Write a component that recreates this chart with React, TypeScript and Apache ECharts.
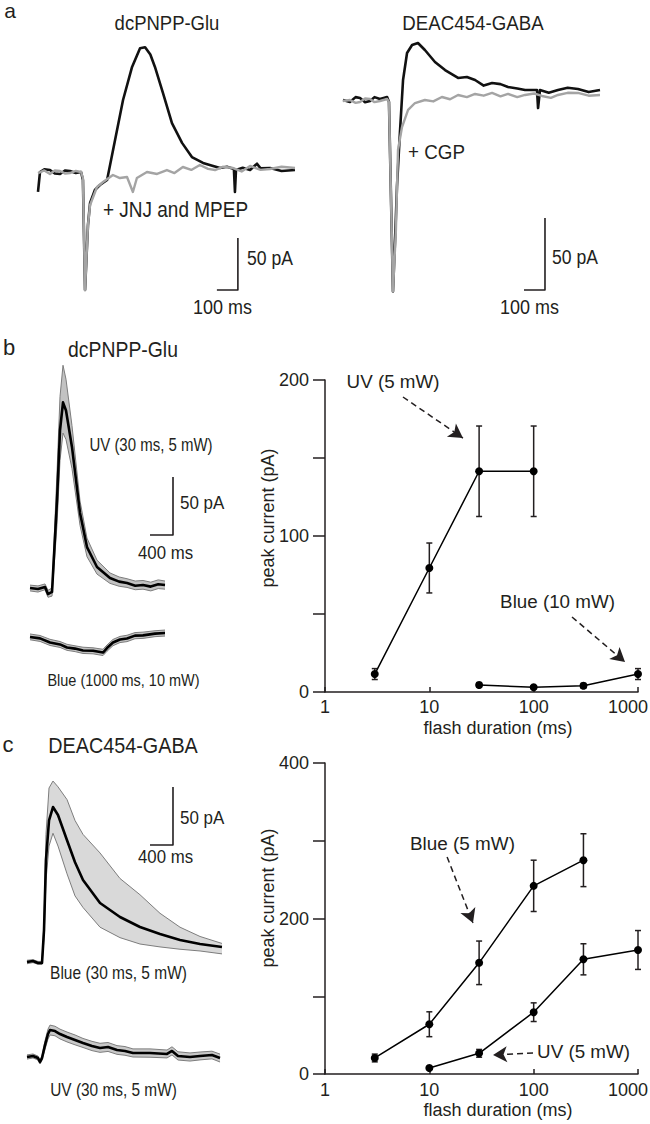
import React, { useEffect, useRef } from "react";
import * as echarts from "echarts";

const FONT = "'Liberation Sans', Arial, Helvetica, sans-serif";
const INK = "#231f20";
const GRAY = "#a4a4a4";
const EDGE = "#7d7d7d";

// ---------- Panel a: example traces, [time (ms), current (pA)] ----------
const aGluControl = [
  [0, -19.2], [9.5, 0], [30, 2.5], [57, 1.9], [80, -1.5], [105, -1.9], [130, 1.5], [152, 1], [180, -1], [205, 0],
  [214, -7.7], [224, -113.5], [238, -51], [248, -29.8], [271, -17.3], [295, -12.5], [329, -7.7], [367, 30.8],
  [405, 69.2], [448, 101], [486, 119], [510, 120], [535, 113], [557, 101], [595, 76], [638, 47], [686, 28],
  [733, 14.4], [786, 8.7], [830, 6], [867, 3.8], [900, 5], [933, 2.9], [938, -19.2], [943, 1.9], [975, 4],
  [1010, 1.9], [1043, 8], [1060, 3.5], [1105, 3.8], [1160, 1], [1224, 1.9],
];
const aGluBlocked = [
  [0, -1], [30, 1.5], [57, -1.9], [80, 1.5], [105, 1], [130, -1.5], [152, -1], [180, 1], [205, 0], [214, -5.8],
  [224, -113.5], [238, -51], [248, -31.7], [281, -14.4], [310, -9.6], [357, -2.9], [390, -5.8], [424, -4.8],
  [452, -19.2], [471, -5.8], [519, 0], [567, -1.9], [614, 1.9], [650, -1], [690, 4.8], [730, 2], [771, 6.7],
  [810, 3], [843, 1.9], [880, 5], [929, 3.8], [970, 0.5], [1010, 5.8], [1060, 2], [1105, 2.9], [1160, 5], [1224, 3.8],
];
const aGabaControl = [
  [0, 0], [33, -1.4], [60, 2], [81, 1.4], [105, -1.5], [129, -0.7], [150, 2], [176, 0.7], [210, 2.1], [219, -1.4],
  [238, -133], [248, -97], [257, -60.4], [271, -22.9], [286, 13.9], [305, 32.6], [329, 38.2], [357, 39.6],
  [390, 34.7], [438, 26.4], [486, 20.8], [548, 15.3], [590, 16], [629, 13.9], [670, 10], [710, 11.8], [750, 11],
  [786, 9], [830, 8], [867, 6.9], [924, 6.9], [929, -5.6], [938, 6.9], [980, 5], [1024, 6.9], [1070, 8.5],
  [1119, 7.6], [1170, 5.5], [1224, 6.9],
];
const aGabaCGP = [
  [0, -0.7], [33, 0], [60, -2], [81, -1.4], [105, 1], [129, 0.7], [150, -1.5], [176, -0.7], [210, 0.7], [219, -1.4],
  [238, -133], [252, -90], [262, -34.7], [281, -18.8], [310, -6.9], [343, -2.1], [390, 0], [430, -1], [471, 2.1],
  [510, 0.5], [548, 3.5], [590, 2], [629, 4.2], [670, 3], [710, 4.9], [750, 2.5], [786, 4.2], [830, 2], [867, 3.5],
  [910, 4.5], [948, 2.8], [990, 1.5], [1024, 3.5], [1070, 5], [1119, 4.9], [1170, 3], [1224, 3.5],
];

// ---------- Panel b traces (mean ± band) ----------
const bUvTime = [0, 139, 261, 313, 383, 470, 522, 574, 626, 730, 870, 991, 1165, 1391, 1550, 1687, 1830, 1965, 2100, 2230, 2348];
const bUvMean = [0, -0.9, 0.9, -5.2, -3.4, 75.9, 136, 160, 153, 121.6, 64.7, 35.3, 18.1, 8.6, 5.5, 4.3, 2.0, 2.6, 1.2, 3.2, 2.6];
const bUvUpper = [2.5, 1.8, 3.5, -2, 0, 100, 165, 192, 180, 140, 75, 43, 24, 13, 9.5, 8, 6, 6.5, 5, 7, 6];
const bUvLower = [-2.5, -3.5, -1.5, -8, -7, 55, 110, 133.6, 128, 103, 54, 27, 12, 4, 1.5, 0.5, -1.5, -1, -2.5, -0.5, -1];

const bBlueTime = [0, 174, 348, 522, 643, 783, 922, 1096, 1270, 1339, 1443, 1565, 1687, 1826, 1965, 2174, 2348];
const bBlueMean = [0, -1.2, -4.8, -6.4, -9.0, -10.0, -11.6, -11.8, -13.4, -9.5, -4.8, -2.2, -1.3, 1.2, 1.4, 2.9, 3.4];
const bBlueUpper = [2.6, 1.3, -2.0, -3.9, -6.3, -7.6, -8.8, -9.3, -10.6, -6.9, -2.1, 0.5, 1.5, 3.8, 4.2, 5.4, 6.0];
const bBlueLower = [-2.4, -3.8, -7.3, -9.0, -11.5, -12.6, -14.2, -14.5, -16.0, -12.3, -7.5, -4.8, -4.0, -1.5, -1.2, 0.3, 0.8];

// ---------- Panel c traces ----------
const cBlueTime = [0, 104, 191, 261, 296, 330, 383, 452, 539, 696, 835, 974, 1270, 1617, 1965, 2313, 2661, 3009, 3391];
const cBlueMean = [0, 0.9, -0.9, -0.9, 27.6, 88, 122, 133.6, 126.7, 105, 86, 70.7, 50.9, 38.8, 30.2, 24.1, 19, 15.5, 12.9];
const cBlueUpper = [1.5, 2, 0.5, 0.5, 35, 110, 150, 156, 151, 140, 122, 110, 94, 72, 58, 42, 30, 22, 16];
const cBlueLower = [-1.5, -0.5, -2, -2, 20, 70, 100, 111, 100, 76, 57, 47, 30, 21, 15.5, 13, 11, 9.5, 7];

const cUvTime = [0, 104, 191, 226, 261, 313, 365, 400, 487, 574, 696, 835, 974, 1130, 1270, 1409, 1565, 1704, 1843, 2139, 2435, 2522, 2626, 2835, 3009, 3217, 3357];
const cUvMean = [0, 0.9, -0.9, -4.3, -0.9, 10.3, 19.8, 23.3, 22.4, 19.8, 17.2, 14.7, 12.1, 9.5, 7.8, 8.6, 6, 5.2, 3.4, 3.4, 2.6, 5.2, 0.9, 0, 0.9, 1.7, -0.9];
const cUvUpper = [1.8, 2.6, 0.8, -2.5, 1, 14, 24, 27.5, 26.5, 24, 21.5, 19, 16, 13.5, 11.8, 12.5, 9.8, 9, 7, 7, 6, 8.8, 4.5, 3.5, 4.3, 5, 2.5];
const cUvLower = [-1.8, -0.8, -2.6, -6, -2.7, 6.5, 15.5, 19, 18.3, 15.6, 13, 10.5, 8.2, 5.5, 4, 4.8, 2.3, 1.5, 0, -0.2, -0.8, 1.8, -2.6, -3.5, -2.5, -1.6, -4.3];

// ---------- Scale bars (lengths) ----------
const aScalePA = 50;
const aScaleMs = 100;
const bcScalePA = 50;
const bcScaleMs = 400;

// ---------- Peak current vs flash duration ----------
const durTickLabels = ["1", "10", "100", "1000"];
const bYTickLabels = ["0", "100", "200"];
const cYTickLabels = ["0", "200", "400"];

const bUvDur = [3, 10, 30, 100];
const bUvPeak = [11.5, 79.5, 141.5, 141.5];
const bUvErr = [3.5, 16, 29, 29];
const bBlueDur = [30, 100, 300, 1000];
const bBluePeak = [4.5, 3, 4, 11.5];
const bBlueErr = [1.5, 1, 1.5, 3.5];

const cBlueDur = [3, 10, 30, 100, 300];
const cBluePeak = [20.6, 64, 143, 242, 275];
const cBlueErr = [5, 16, 28, 33, 34];
const cUvDur = [10, 30, 100, 300, 1000];
const cUvPeak = [7.7, 26.6, 79.5, 147.5, 159.5];
const cUvErr = [2, 5, 12, 20, 25];

// ---------- helpers ----------
const zip = (a: number[], b: number[]) => a.map((v, i) => [v, b[i]]);

function trace(ai: number, data: number[][], color: string, width: number) {
  return {
    type: "line", xAxisIndex: ai, yAxisIndex: ai, data, symbol: "none", showSymbol: false,
    lineStyle: { color, width, join: "round" }, silent: true, clip: false,
  };
}

function band(ai: number, time: number[], lower: number[], upper: number[], fill: string) {
  return {
    type: "custom", xAxisIndex: ai, yAxisIndex: ai, coordinateSystem: "cartesian2d", silent: true, clip: false,
    data: time.map((t, i) => [t, lower[i], upper[i]]),
    encode: { x: 0, y: [1, 2] },
    renderItem: (params: any, api: any) => {
      if (params.dataIndex !== 0) return null;
      const pts: number[][] = [];
      for (let i = 0; i < time.length; i++) pts.push(api.coord([time[i], upper[i]]));
      for (let i = time.length - 1; i >= 0; i--) pts.push(api.coord([time[i], lower[i]]));
      return { type: "polygon", shape: { points: pts }, style: { fill, stroke: null } };
    },
  };
}

function bandSeries(ai: number, time: number[], mean: number[], upper: number[], lower: number[], fill: string) {
  return [
    band(ai, time, lower, upper, fill),
    trace(ai, zip(time, upper), EDGE, 1),
    trace(ai, zip(time, lower), EDGE, 1),
    trace(ai, zip(time, mean), "#000", 2.6),
  ];
}

function scaleBar(ai: number, corner: number[], pA: number, ms: number) {
  return trace(ai, [[corner[0], corner[1] + pA], [corner[0], corner[1]], [corner[0] - ms, corner[1]]], INK, 1.6);
}

function errorBars(ai: number, dur: number[], peak: number[], err: number[]) {
  return {
    type: "custom", xAxisIndex: ai, yAxisIndex: ai, coordinateSystem: "cartesian2d", silent: true, clip: false,
    data: dur.map((d, i) => [d, peak[i] - err[i], peak[i] + err[i]]),
    encode: { x: 0, y: [1, 2] },
    renderItem: (_p: any, api: any) => {
      const x = api.value(0);
      const a = api.coord([x, api.value(1)]);
      const b = api.coord([x, api.value(2)]);
      const w = 3;
      const st = { stroke: INK, lineWidth: 1.5 };
      return {
        type: "group",
        children: [
          { type: "line", shape: { x1: a[0], y1: a[1], x2: b[0], y2: b[1] }, style: st },
          { type: "line", shape: { x1: a[0] - w, y1: a[1], x2: a[0] + w, y2: a[1] }, style: st },
          { type: "line", shape: { x1: b[0] - w, y1: b[1], x2: b[0] + w, y2: b[1] }, style: st },
        ],
      };
    },
  };
}

function arrow(from: number[], to: number[]) {
  return {
    silent: true, symbol: ["none", "arrow"], symbolSize: [12, 14],
    lineStyle: { type: [6, 4], width: 1.5, color: INK },
    itemStyle: { color: INK },
    label: { show: false }, emphasis: { disabled: true },
    data: [[{ coord: from }, { coord: to }]],
  };
}

function dots(ai: number, dur: number[], peak: number[], markLine: any) {
  return {
    type: "line", xAxisIndex: ai, yAxisIndex: ai, data: zip(dur, peak), symbol: "circle", symbolSize: 8,
    showSymbol: true, itemStyle: { color: "#000", borderWidth: 0 }, lineStyle: { color: "#000", width: 1.5 },
    silent: true, z: 3, markLine,
  };
}

function txt(text: string, x: number, y: number, size: number, align = "center", rotation = 0, scaleY = 1) {
  return {
    type: "text", x, y, rotation, scaleY, silent: true, z: 100,
    style: { text, fontSize: size, fontFamily: FONT, fill: INK, align, verticalAlign: "middle" },
  };
}

const hidden = (g: number, min: number, max: number) => ({ gridIndex: g, type: "value", min, max, show: false });

function durAxis(g: number, margin: number) {
  return {
    gridIndex: g, type: "log", logBase: 10, min: 1, max: 1000,
    axisLine: { show: true, onZero: false, lineStyle: { color: INK, width: 1.5 } },
    axisTick: { show: true, inside: true, length: 5, lineStyle: { color: INK, width: 1.5 } },
    minorTick: { show: false }, splitLine: { show: false },
    axisLabel: {
      color: INK, fontSize: 18, fontFamily: FONT, margin,
      formatter: (v: number) => {
        const s = String(Math.round(v));
        if (!durTickLabels.includes(s)) return "";
        return s === durTickLabels[durTickLabels.length - 1] ? "{last|" + s + "}" : s;
      },
      rich: { last: { fontSize: 18, fontFamily: FONT, color: INK, padding: [0, 20, 0, 0] } },
    },
  };
}

function peakAxis(g: number, max: number, interval: number, labels: string[]) {
  return {
    gridIndex: g, type: "value", min: 0, max, interval,
    axisLine: { show: true, onZero: false, lineStyle: { color: INK, width: 1.5 } },
    axisTick: { show: true, inside: false, length: 12, lineStyle: { color: INK, width: 1.5 } },
    splitLine: { show: false },
    axisLabel: {
      color: INK, fontSize: 18, fontFamily: FONT, margin: 16,
      formatter: (v: number) => (labels.includes(String(v)) ? String(v) : ""),
    },
  };
}

function buildOption() {
  const grid = (left: number, top: number, width: number, height: number) =>
    ({ left, top, width, height, containLabel: false, outerBoundsMode: "none" });

  return {
    animation: false,
    backgroundColor: "#fff",
    grid: [
      grid(38, 36.8, 257, 260),      // a left
      grid(343, 13.6, 257, 288),     // a right
      grid(30, 356, 161, 301.6),     // b UV trace
      grid(30, 613.8, 161, 46.4),    // b blue trace
      grid(27, 764.8, 195.5, 208.8), // c blue trace
      grid(27, 1022.2, 195.5, 46.4), // c UV trace
      grid(325, 380, 313, 312),      // b plot
      grid(325, 763, 313, 311),      // c plot
    ],
    xAxis: [
      hidden(0, 0, 1224), hidden(1, 0, 1224), hidden(2, 0, 2800), hidden(3, 0, 2800),
      hidden(4, 0, 3400), hidden(5, 0, 3400), durAxis(6, 6), durAxis(7, 6.5),
    ],
    yAxis: [
      hidden(0, -120, 130), hidden(1, -140, 60), hidden(2, -60, 200), hidden(3, -20, 20),
      hidden(4, -10, 170), hidden(5, -10, 30),
      peakAxis(6, 200, 50, bYTickLabels), peakAxis(7, 400, 100, cYTickLabels),
    ],
    series: [
      trace(0, aGluControl, "#111", 2.6),
      trace(0, aGluBlocked, GRAY, 2.4),
      scaleBar(0, [952, -113.5], aScalePA, aScaleMs),
      trace(1, aGabaControl, "#111", 2.6),
      trace(1, aGabaCGP, GRAY, 2.4),
      scaleBar(1, [962, -131.9], aScalePA, aScaleMs),
      ...bandSeries(2, bUvTime, bUvMean, bUvUpper, bUvLower, "#c2c2c2"),
      scaleBar(2, [2487, 45.7], bcScalePA, bcScaleMs),
      ...bandSeries(3, bBlueTime, bBlueMean, bBlueUpper, bBlueLower, "#c2c2c2"),
      ...bandSeries(4, cBlueTime, cBlueMean, cBlueUpper, cBlueLower, "#d9d9d9"),
      scaleBar(4, [2539, 100.9], bcScalePA, bcScaleMs),
      ...bandSeries(5, cUvTime, cUvMean, cUvUpper, cUvLower, "#c8c8c8"),
      errorBars(6, bUvDur, bUvPeak, bUvErr),
      errorBars(6, bBlueDur, bBluePeak, bBlueErr),
      dots(6, bUvDur, bUvPeak, arrow([5.59, 189.1], [21, 162.8])),
      dots(6, bBlueDur, bBluePeak, arrow([233, 48.1], [751, 19.2])),
      errorBars(7, cBlueDur, cBluePeak, cBlueErr),
      errorBars(7, cUvDur, cUvPeak, cUvErr),
      dots(7, cBlueDur, cBluePeak, arrow([14.8, 279.1], [26.2, 194.2])),
      dots(7, cUvDur, cUvPeak, arrow([98.6, 27], [40.8, 24.4])),
    ],
    graphic: [
      txt("a", 10, 10.5, 21),
      txt("dcPNPP-Glu", 167, 22.5, 18.5, "center", 0, 1.12),
      txt("DEAC454-GABA", 473, 22.5, 18.7, "center", 0, 1.12),
      txt("+ JNJ and MPEP", 175.5, 210, 19, "center", 0, 1.12),
      txt("+ CGP", 436.5, 152, 18.8, "center", 0, 1.12),
      txt("50 pA", 247, 258, 17.6, "left", 0, 1.15),
      txt("100 ms", 222.5, 307, 18, "center", 0, 1.12),
      txt("50 pA", 552, 257, 17.6, "left", 0, 1.15),
      txt("100 ms", 529.5, 307, 18, "center", 0, 1.12),
      txt("b", 9, 347, 22),
      txt("dcPNPP-Glu", 123, 349, 19.4, "center", 0, 1.12),
      txt("UV (30 ms, 5 mW)", 151, 445, 15, "center", 0, 1.2),
      txt("50 pA", 180, 503, 17, "left", 0, 1.12),
      txt("400 ms", 165.5, 553, 16.8, "center", 0, 1.12),
      txt("Blue (1000 ms, 10 mW)", 123.5, 680, 14.5, "center", 0, 1.2),
      txt("c", 8, 744, 22),
      txt("DEAC454-GABA", 123, 745, 19.8, "center", 0, 1.12),
      txt("50 pA", 180, 818, 17, "left", 0, 1.12),
      txt("400 ms", 165.5, 857, 16.8, "center", 0, 1.12),
      txt("Blue (30 ms, 5 mW)", 118.5, 973, 15.5, "center", 0, 1.2),
      txt("UV (30 ms, 5 mW)", 113.5, 1090, 15.4, "center", 0, 1.2),
      txt("UV (5 mW)", 393, 381, 18.8),
      txt("Blue (10 mW)", 557.5, 601, 18.8),
      txt("Blue (5 mW)", 462.5, 843, 18.9),
      txt("UV (5 mW)", 583.5, 1051, 18.8),
      txt("peak current (pA)", 268, 518, 18, "center", Math.PI / 2),
      txt("flash duration (ms)", 498, 728, 18),
      txt("peak current (pA)", 268, 898, 18, "center", Math.PI / 2),
      txt("flash duration (ms)", 498, 1110, 18),
    ],
  };
}

export default function App() {
  const ref = useRef<HTMLDivElement>(null);
  useEffect(() => {
    if (!ref.current) return;
    const chart = echarts.init(ref.current, null, { renderer: "svg" });
    chart.setOption(buildOption() as any);
    return () => chart.dispose();
  }, []);
  return (
    <div
      ref={ref}
      style={{ position: "absolute", left: 0, top: 0, width: 650, height: 1124, background: "#fff" }}
    />
  );
}
